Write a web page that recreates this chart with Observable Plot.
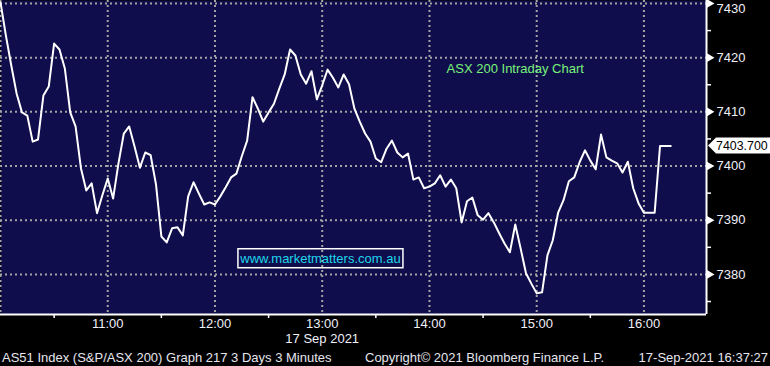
<!DOCTYPE html>
<html><head><meta charset="utf-8">
<script src="https://cdn.jsdelivr.net/npm/d3@7"></script>
<script src="https://cdn.jsdelivr.net/npm/@observablehq/plot@0.6"></script>
<style>
html,body{margin:0;padding:0;background:#000;}
#wrap{position:relative;width:770px;height:366px;overflow:hidden;font-family:"Liberation Sans",Arial,sans-serif;background:#000;}
#status{position:absolute;left:0;top:349px;width:770px;height:17px;color:#e6e6ee;font-size:13px;line-height:17px;}
#status span{position:absolute;top:0;white-space:pre;}
</style></head><body>
<div id="wrap"><div id="chart"></div>
<div id="status"><span style="left:2px">AS51 Index (S&amp;P/ASX 200) Graph 217 3 Days 3 Minutes</span><span style="left:365px">Copyright© 2021 Bloomberg Finance L.P.</span><span style="right:2px">17-Sep-2021 16:37:27</span></div>
</div>
<script>
// ---- data ----
const sessionStart = "2021-09-17T10:00Z";
const barMinutes = 3;
const prices = [
  7430.2, 7424.1, 7418.6, 7413.4, 7409.9, 7409.3, 7404.5, 7404.9, 7413.0, 7414.7,
  7422.6, 7421.5, 7418.0, 7409.9, 7407.3, 7399.6, 7395.5, 7396.8, 7391.3, 7394.6,
  7397.7, 7394.0, 7400.5, 7406.0, 7407.3, 7403.6, 7399.7, 7402.5, 7402.0, 7396.6,
  7387.0, 7385.9, 7388.5, 7388.7, 7387.2, 7394.4, 7397.0, 7394.9, 7392.9, 7393.3,
  7392.9, 7394.4, 7396.1, 7397.9, 7398.6, 7401.8, 7404.7, 7412.7, 7410.6, 7408.2,
  7409.9, 7411.5, 7414.3, 7416.9, 7421.5, 7420.4, 7416.9, 7415.2, 7417.5, 7412.3,
  7414.9, 7417.8, 7416.3, 7414.5, 7416.9, 7415.1, 7410.6, 7408.2, 7406.0, 7404.5,
  7401.4, 7400.7, 7403.2, 7404.7, 7402.5, 7401.6, 7402.3, 7397.5, 7397.9, 7395.9,
  7396.2, 7396.8, 7398.3, 7396.2, 7397.5, 7395.9, 7389.6, 7393.5, 7394.2, 7390.9,
  7390.1, 7391.3, 7389.6, 7387.6, 7385.7, 7384.1, 7389.2, 7384.8, 7380.2, 7378.3,
  7376.5, 7376.7, 7383.5, 7386.3, 7391.4, 7393.7, 7397.2, 7397.9, 7400.7, 7402.9,
  7401.0, 7399.4, 7405.8, 7401.6, 7401.0, 7400.5, 7398.8, 7400.8, 7395.9, 7393.1,
  7391.4, 7391.4, 7391.4, 7403.7, 7403.7, 7403.7
];
const gridHours = ["10:00","11:00","12:00","13:00","14:00","15:00","16:00"];
const labelHours = ["11:00","12:00","13:00","14:00","15:00","16:00"];
const halfHours = ["10:30","11:30","12:30","13:30","14:30","15:30"];
const yMajor = [7380, 7390, 7400, 7410, 7420, 7430];
const yMinor = [7375, 7385, 7395, 7405, 7415, 7425];
const xDomainTimes = ["10:00", "16:35"];
const yDomain = [7372.6, 7430.55];
const dateLabel = "17 Sep 2021";
const titleText = "ASX 200 Intraday Chart";
const siteText = "www.marketmatters.com.au";

// ---- build ----
const t = s => new Date(`2021-09-17T${s}Z`);
const t0 = new Date(sessionStart);
const series = prices.map((p, i) => ({time: new Date(+t0 + i * barMinutes * 60000), price: p}));
const lastPrice = prices[prices.length - 1];
const xDomain = xDomainTimes.map(t);
const topTick = yMajor[yMajor.length - 1];
const innerMajor = yMajor.slice(0, -1);

const navy = "#0f0d4b";
const gridStyle = {stroke: "#a4a4a4", strokeOpacity: 1, strokeWidth: 2, strokeDasharray: "2,3"};
const fg = "#f0f0fa";
const font = "Liberation Sans, Arial, sans-serif";

const titleAnchor = {time: t("14:48"), price: 7418.0};
const siteAnchor = {time: t("12:59"), price: 7382.8};

function tagMark(index, scales, values, dimensions) {
  const y = scales.y(lastPrice);
  const x0 = dimensions.width - dimensions.marginRight + 2;
  const g = d3.create("svg:g");
  g.append("path")
    .attr("d", `M${x0},${y} L${x0 + 8},${y - 8} H${x0 + 64} V${y + 8} H${x0 + 8} Z`)
    .attr("fill", "white");
  g.append("text").attr("x", x0 + 8).attr("y", y).attr("dy", "0.35em")
    .attr("text-anchor", "start")
    .attr("fill", "#000").style("fill", "#000").attr("font-size", 12.4)
    .attr("font-family", font)
    .text(d3.format(".3f")(lastPrice));
  return g.node();
}
function siteBox(index, scales) {
  const cx = scales.x(siteAnchor.time), cy = scales.y(siteAnchor.price);
  return d3.create("svg:rect")
    .attr("x", cx - 82).attr("y", cy - 10).attr("width", 165).attr("height", 19)
    .attr("fill", "none").attr("stroke", "white").attr("stroke-width", 1.5).node();
}

const chart = Plot.plot({
  width: 770, height: 346,
  marginLeft: 0, marginRight: 64, marginTop: 0, marginBottom: 32,
  style: {background: "#000", color: fg, fontFamily: font, fontSize: "13px", overflow: "visible"},
  x: {type: "utc", domain: xDomain, axis: null},
  y: {domain: yDomain, axis: null},
  marks: [
    Plot.frame({fill: navy, stroke: null}),
    Plot.gridX(gridHours.map(t), gridStyle),
    Plot.gridY(yMajor, gridStyle),
    Plot.line(series, {x: "time", y: "price", stroke: "white", strokeWidth: 2}),
    Plot.ruleY([yDomain[0]], {stroke: "white", strokeWidth: 2}),
    Plot.ruleX([xDomain[1]], {stroke: "white", strokeWidth: 2}),
    Plot.axisX({ticks: halfHours.map(t), tickSize: 4, tickFormat: () => "", stroke: "white", strokeWidth: 1.5, label: null}),
    Plot.axisX({ticks: labelHours.map(t), tickSize: 0, tickPadding: 4, tickFormat: d3.utcFormat("%H:%M"), fill: fg, label: null}),
    Plot.text([dateLabel], {x: () => t("13:00"), text: d => d, frameAnchor: "bottom", dy: 28, fill: fg}),
    Plot.axisY({anchor: "right", ticks: yMinor, tickSize: 4, tickFormat: () => "", stroke: "white", strokeWidth: 1.5, label: null}),
    Plot.axisY({anchor: "right", ticks: innerMajor, tickSize: 0, tickPadding: 10, tickFormat: d => String(d), fill: fg, label: null}),
    Plot.text([topTick], {x: () => xDomain[1], y: d => d, text: d => String(d), textAnchor: "start", dx: 10, dy: 5, fill: fg}),
    Plot.dot(yMajor, {x: () => xDomain[1], y: d => d, symbol: "triangle", r: 3.2, rotate: 90, fill: "white", stroke: null, dx: 3}),
    Plot.text([titleAnchor], {x: "time", y: "price", text: () => titleText, fill: "#79f27a", fontSize: 13}),
    siteBox,
    Plot.text([siteAnchor], {x: "time", y: "price", text: () => siteText, fill: "#1fd6ea", fontSize: 13}),
    tagMark
  ]
});
document.getElementById("chart").appendChild(chart);
</script>
</body></html>
